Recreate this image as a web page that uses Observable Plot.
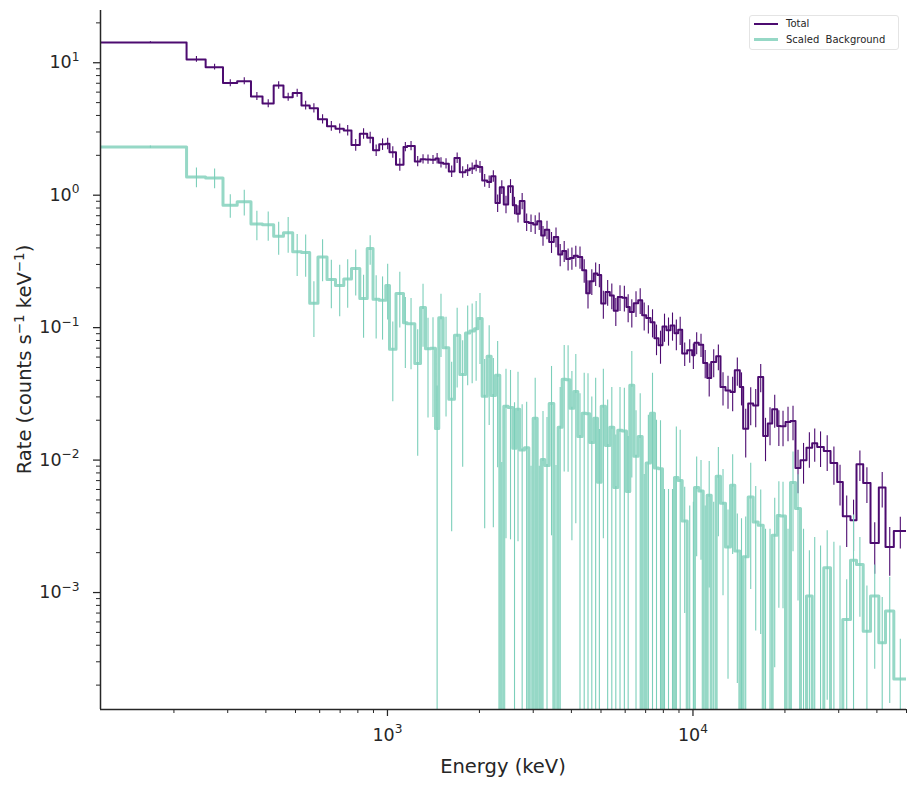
<!DOCTYPE html>
<html>
<head>
<meta charset="utf-8">
<script src="https://cdn.jsdelivr.net/npm/d3@7"></script>
<script src="https://cdn.jsdelivr.net/npm/@observablehq/plot@0.6"></script>
<style>
  html, body { margin: 0; padding: 0; background: #fff; }
  #wrap { position: relative; width: 915px; height: 786px; font-family: "DejaVu Sans", sans-serif; }
  .legend { position: absolute; left: 749px; top: 15px; width: 150px; height: 35px; box-sizing: border-box;
            border: 1px solid #e4e4e4; border-radius: 3px; background: rgba(255,255,255,0.85);
            font-size: 10px; color: #262626; }
  .legend .sw { position: absolute; left: 4px; width: 24px; }
  .legend .lab { position: absolute; left: 36px; line-height: 12px; white-space: pre; }
</style>
</head>
<body>
<div id="wrap"></div>
<script>
// ---------------- data ----------------
// shared energy bin edges (keV)
const edges = [115, 220, 254, 289.5, 322.2, 357.5, 390, 424.2, 456.7, 489.6, 523.1, 556.5, 592.3, 634.1, 676, 719.5, 762.5, 811.9, 858.5, 897, 939.7, 987.6, 1015.5, 1066.6, 1128.6,
  1160, 1229, 1283, 1332, 1383, 1436, 1472, 1522, 1588, 1657, 1725, 1801, 1860, 1927, 1975, 2042, 2120, 2185, 2257, 2332, 2403, 2484, 2572, 2639, 2711, 2809, 2902, 2999, 3091, 3186,
  3273, 3384, 3503, 3621, 3732, 3846, 3958, 4073, 4198, 4339, 4472, 4595, 4736, 4870, 5007, 5172, 5343, 5506, 5675, 5866, 6059, 6212, 6402, 6618, 6820, 7029, 7261,
  7483, 7712, 7948, 8191, 8442, 8700, 8945, 9219,
  9575, 9943, 10117, 10450, 10801, 11132, 11473, 11914, 12306, 12778, 13269, 13707, 14233, 14602, 15163, 15746, 16351, 16978, 17577, 18170,
  18868, 19343, 20086, 20857, 21658, 22490, 23530, 24564, 25508, 26810, 28198, 29660, 30935, 32784, 34301, 36078, 38122, 40585, 42687, 45443, 50000];

// Total rate (counts s^-1 keV^-1) per bin
const totalRate = [14.2, 10.6, 9.26, 7.02, 7.26, 5.57, 4.92, 6.74, 5.50, 5.90, 4.76, 4.54, 3.75, 3.32, 3.18, 3.08, 2.39, 2.91, 2.72, 2.18, 2.42, 2.45, 2.11, 1.70,
  2.31, 2.35, 1.80, 1.87, 1.86, 1.85, 1.89, 1.76, 1.73, 1.51, 1.91, 1.49, 1.54, 1.59, 1.67, 1.63, 1.29, 1.26, 1.39, 0.872,
  1.15, 0.852, 1.17, 0.838, 0.725, 0.903, 0.627, 0.616, 0.602, 0.637, 0.497, 0.549, 0.443, 0.483, 0.356, 0.379, 0.330, 0.335, 0.349, 0.341,
  0.271, 0.182, 0.224, 0.256, 0.250, 0.152, 0.186, 0.175, 0.134, 0.170, 0.168, 0.143, 0.131, 0.153, 0.161, 0.124, 0.118,
  0.110, 0.083, 0.0735, 0.102, 0.0954, 0.104, 0.0906, 0.0966,
  0.0637, 0.0674, 0.0618, 0.0770, 0.0744, 0.0541, 0.0416, 0.0550, 0.0607, 0.0356, 0.0336, 0.0327, 0.0476, 0.0356, 0.01728, 0.0267, 0.0258, 0.0424, 0.0152, 0.01886,
  0.02417, 0.0181, 0.0180, 0.01939, 0.01973, 0.00872, 0.00997, 0.01238, 0.01339, 0.01256, 0.01172, 0.00951, 0.00682, 0.00377, 0.00351, 0.0093, 0.00672, 0.00237, 0.0062, 0.00221, 0.00292];

// relative 1-sigma error of the Total rate
const totalRelErr = [0.015, 0.05, 0.05, 0.06, 0.06, 0.07, 0.07, 0.065, 0.07, 0.07, 0.075, 0.08, 0.08, 0.085, 0.085, 0.09, 0.1, 0.09, 0.1, 0.1, 0.1, 0.1, 0.1, 0.11,
  0.08, 0.08, 0.09, 0.08, 0.08, 0.08, 0.09, 0.09, 0.09, 0.1, 0.09, 0.1, 0.1, 0.1, 0.1, 0.1, 0.11, 0.11, 0.1, 0.15,
  0.12, 0.15, 0.12, 0.15, 0.15, 0.14, 0.15, 0.15, 0.16, 0.15, 0.17, 0.16, 0.18, 0.17, 0.19, 0.18, 0.19, 0.19, 0.18, 0.19,
  0.2, 0.24, 0.22, 0.2, 0.2, 0.24, 0.22, 0.22, 0.24, 0.22, 0.22, 0.24, 0.24, 0.22, 0.22, 0.24, 0.24,
  0.24, 0.26, 0.28, 0.24, 0.24, 0.24, 0.26, 0.24,
  0.2, 0.2, 0.22, 0.19, 0.2, 0.24, 0.28, 0.24, 0.22, 0.28, 0.28, 0.29, 0.24, 0.28, 0.4, 0.32, 0.32, 0.24, 0.36, 0.32,
  0.28, 0.3, 0.3, 0.29, 0.29, 0.36, 0.34, 0.3, 0.28, 0.3, 0.3, 0.32, 0.34, 0.42, 0.42, 0.26, 0.3, 0.42, 0.3, 0.4, 0.27];

// Scaled background rate per bin (negative = below zero after scaling)
const bkgRate = [2.31, 1.37, 1.35, 0.838, 0.893, 0.605, 0.598, 0.489, 0.521, 0.374, 0.37, 0.153, 0.341, 0.231, 0.208, 0.233, 0.279, 0.166, 0.395, 0.164, 0.161, 0.208, 0.0688, 0.181,
  0.109, 0.107, 0.0535, 0.142, 0.0694, 0.070, 0.0173, 0.119, 0.0706, 0.0288, 0.0875, 0.0442, 0.091, 0.0943, 0.0983, 0.117, 0.0303, 0.0607, 0.0308, 0.0437,
  -0.008, 0.0255, 0.025, 0.0123, 0.0242, 0.0119, 0.0124, -0.006, 0.0207, -0.009, 0.0101, 0.0091, 0.0268, -0.007, 0.0177, 0.0407, 0.0405, 0.0246, 0.033, 0.0151,
  0.0226, 0.0224, 0.0136, 0.0207, 0.0068, 0.0255, 0.0129, 0.0177, 0.0062, 0.0168, 0.0166, 0.0058, 0.0367, 0.0107, 0.0151, -0.006, 0.0095,
  0.0226, 0.0087, 0.0086, -0.005, -0.004, -0.006, 0.0074, 0.0070,
  0.00347, -0.003, -0.004, 0.0062, 0.00585, -0.003, 0.00542, -0.004, 0.00755, 0.00472, 0.00221, 0.00645, 0.00206, -0.003, 0.00186, 0.00527, 0.00341, 0.00322, -0.003, -0.002,
  0.00271, 0.00381, 0.00378, -0.002, 0.00676, 0.00431, -0.002, 0.00094, -0.002, -0.0015, 0.00154, -0.002, -0.0015, 0.000625, 0.00175, 0.00163, 0.00051, 0.00094, 0.000417, 0.000726, 0.000222];

// 1-sigma error of the background, as a multiple of |rate|
const bkgRelErr = [0.02, 0.17, 0.17, 0.2, 0.22, 0.25, 0.25, 0.28, 0.3, 0.35, 0.35, 0.45, 0.35, 0.4, 0.42, 0.4, 0.38, 0.5, 0.25, 0.5, 0.5, 0.45, 0.6, 0.45,
  0.55, 0.55, 0.8, 0.5, 0.7, 0.7, 1.1, 0.5, 0.7, 0.9, 0.6, 0.8, 0.6, 0.6, 0.6, 0.55, 0.9, 0.7, 0.9, 0.8,
  2.2, 0.9, 0.9, 1.2, 0.9, 1.2, 1.2, 2.5, 1.0, 2.0, 1.3, 1.3, 0.9, 2.3, 1.0, 0.8, 0.8, 0.9, 0.9, 1.1,
  1.0, 1.0, 1.2, 1.0, 1.5, 0.9, 1.2, 1.0, 1.5, 1.1, 1.1, 1.6, 0.8, 1.2, 1.1, 2.3, 1.3,
  1.0, 1.3, 1.3, 2.2, 2.5, 2.0, 1.4, 1.4,
  0.8, 2.5, 2.2, 0.7, 0.7, 2.5, 0.8, 2.2, 0.65, 0.8, 0.9, 0.7, 0.9, 2.2, 1.0, 0.8, 0.85, 0.85, 2.0, 2.5,
  0.9, 0.8, 0.8, 2.5, 0.7, 0.8, 2.5, 1.2, 2.3, 2.5, 0.9, 2.2, 2.5, 1.0, 1.2, 0.6, 1.2, 0.72, 1.2, 0.8, 1.0];

// axis ticks and labels
const xMajorTicks = [1e3, 1e4];
const yMajorTicks = [1e-3, 1e-2, 1e-1, 1, 10];
const xDomain = [115, 50000];
const yDomain = [1.309e-4, 24.8];
const xLabel = "Energy (keV)";
const yLabelParts = ["Rate (counts s", "−1", " keV", "−1", ")"];
const seriesNames = ["Total", "Scaled  Background"];

// ---------------- styling ----------------
const purple = "#4c0b70";
const tealLine = "#96d8c6";
const tealErr = "#7ccfba";
const ink = "#262626";
const FLOOR = 1e-9; // non-positive values are clipped below the frame, as on a log axis

function stepPoints(vals) {
  const out = [];
  vals.forEach((v, i) => {
    const y = v > 0 ? v : FLOOR;
    out.push({x: edges[i], y}, {x: edges[i + 1], y});
  });
  return out;
}
function errPoints(vals, rel) {
  const out = [];
  vals.forEach((v, i) => {
    const e = rel[i] * Math.abs(v);
    const hi = v + e, lo = v - e;
    if (hi <= 0) return;
    out.push({x: (edges[i] + edges[i + 1]) / 2, y1: lo > 0 ? lo : FLOOR, y2: hi});
  });
  return out;
}
const isPow10 = d => Math.abs(Math.log10(d) - Math.round(Math.log10(d))) < 1e-9;
const xMinorTicks = d3.scaleLog().domain(xDomain).ticks().filter(d => !isPow10(d));
const yMinorTicks = d3.scaleLog().domain(yDomain).ticks().filter(d => !isPow10(d));
const powFmt = d => "10^" + String(Math.round(Math.log10(d))).replace("-", "−");

const chart = Plot.plot({
  width: 915,
  height: 786,
  marginLeft: 100,
  marginRight: 9,
  marginTop: 10,
  marginBottom: 77,
  style: {fontFamily: "DejaVu Sans, sans-serif", color: ink, background: "#fff"},
  x: {type: "log", domain: xDomain, label: null},
  y: {type: "log", domain: yDomain, label: null},
  marks: [
    Plot.ruleX(errPoints(totalRate, totalRelErr), {x: "x", y1: "y1", y2: "y2", stroke: purple, strokeWidth: 1.1, clip: true}),
    Plot.line(stepPoints(totalRate), {x: "x", y: "y", stroke: purple, strokeWidth: 2, clip: true}),
    Plot.line(stepPoints(bkgRate), {x: "x", y: "y", stroke: tealLine, strokeWidth: 3, clip: true}),
    Plot.ruleX(errPoints(bkgRate, bkgRelErr), {x: "x", y1: "y1", y2: "y2", stroke: tealErr, strokeWidth: 1.1, clip: true}),
    Plot.axisX({ticks: xMinorTicks, tickSize: 4, tickFormat: () => "", stroke: ink, strokeWidth: 1, label: null}),
    Plot.axisX({ticks: xMajorTicks, tickSize: 7, tickPadding: 12, tickFormat: powFmt, fontSize: 17.5, stroke: ink, strokeWidth: 1.25, fill: ink, label: null}),
    Plot.axisY({ticks: yMinorTicks, tickSize: 4, tickFormat: () => "", stroke: ink, strokeWidth: 1, label: null}),
    Plot.axisY({ticks: yMajorTicks, tickSize: 7, tickPadding: 14, tickFormat: powFmt, fontSize: 17.5, stroke: ink, strokeWidth: 1.25, fill: ink, label: null}),
    Plot.ruleX([xDomain[0]], {stroke: ink, strokeWidth: 1.5}),
    Plot.ruleY([yDomain[0]], {stroke: ink, strokeWidth: 1.5})
  ]
});

// superscript exponents in tick labels
const NS = "http://www.w3.org/2000/svg";
chart.querySelectorAll("text").forEach(t => {
  const m = /^10\^(.+)$/.exec(t.textContent);
  if (!m) return;
  while (t.firstChild) t.removeChild(t.firstChild);
  const a = document.createElementNS(NS, "tspan"); a.textContent = "10"; t.appendChild(a);
  const b = document.createElementNS(NS, "tspan");
  b.setAttribute("dy", "-7.5"); b.setAttribute("font-size", "12.2px"); b.textContent = m[1];
  t.appendChild(b);
});

// axis titles
const svg = d3.select(chart);
svg.append("text")
  .attr("x", 503).attr("y", 773)
  .attr("text-anchor", "middle").attr("font-size", 19.5).attr("fill", ink)
  .attr("font-family", "DejaVu Sans, sans-serif")
  .text(xLabel);
const yl = svg.append("text")
  .attr("transform", "translate(31,359.5) rotate(-90)")
  .attr("text-anchor", "middle").attr("font-size", 19.5).attr("fill", ink)
  .attr("font-family", "DejaVu Sans, sans-serif");
yLabelParts.forEach((p, i) => {
  const sup = i % 2 === 1;
  yl.append("tspan").attr("font-size", sup ? 13.5 : 19.5).attr("dy", sup ? -7.5 : (i > 0 ? 7.5 : 0)).text(p);
});

const wrap = document.getElementById("wrap");
wrap.appendChild(chart);

// legend
const lg = document.createElement("div");
lg.className = "legend";
const rows = [{name: seriesNames[0], color: purple, w: 2, cy: 8.5}, {name: seriesNames[1], color: tealLine, w: 3, cy: 24.5}];
rows.forEach(r => {
  const sw = document.createElement("div");
  sw.className = "sw";
  sw.style.top = (r.cy - r.w / 2 - 1) + "px";
  sw.style.height = r.w + "px";
  sw.style.background = r.color;
  lg.appendChild(sw);
  const lab = document.createElement("div");
  lab.className = "lab";
  lab.style.top = (r.cy - 7) + "px";
  lab.textContent = r.name;
  lg.appendChild(lab);
});
wrap.appendChild(lg);
</script>
</body>
</html>
